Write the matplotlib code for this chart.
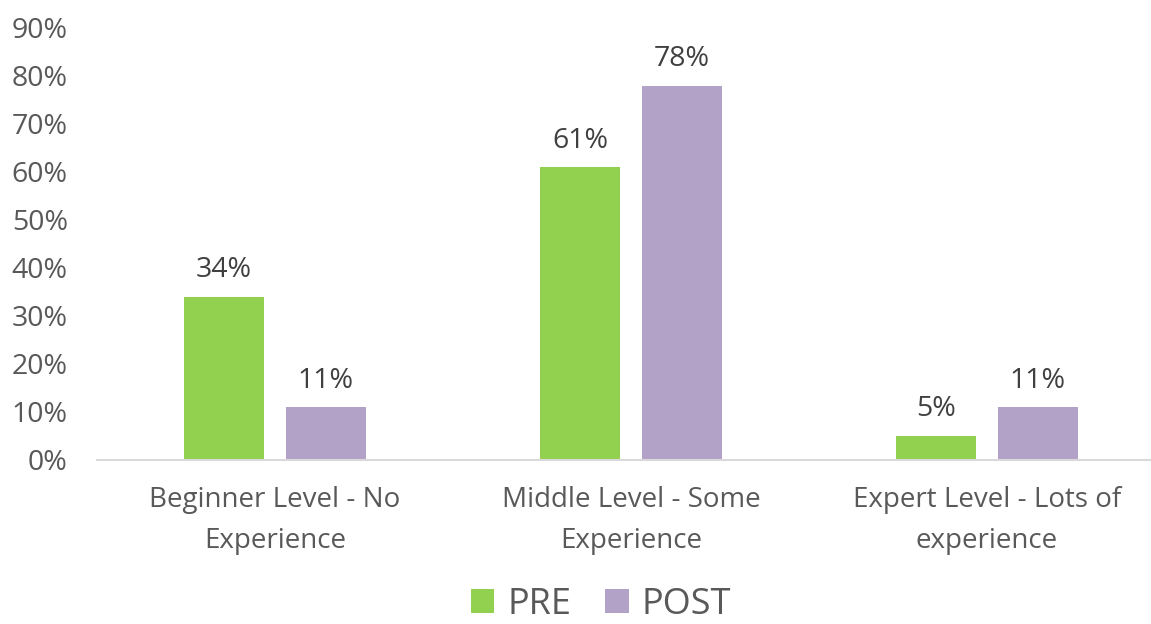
import matplotlib
matplotlib.use("Agg")
import matplotlib.pyplot as plt
from matplotlib.patches import Patch
import numpy as np

categories = ["Beginner Level - No\nExperience",
              "Middle Level - Some\nExperience",
              "Expert Level - Lots of\nexperience"]
series_names = ["PRE", "POST"]
pre_values = [34, 61, 5]
post_values = [11, 78, 11]
y_ticks = [0, 10, 20, 30, 40, 50, 60, 70, 80, 90]

colors = ["#92D050", "#B3A2C7"]
plt.rcParams["font.family"] = ["Open Sans", "DejaVu Sans"]

fig = plt.figure(figsize=(11.51, 6.24), dpi=100)
ax = fig.add_axes([97 / 1151, 164 / 624, 3 * 356 / 1151, 432 / 624])

x = np.arange(len(categories))
width = 0.225
offset = 0.143
for vals, name, col, off in zip([pre_values, post_values], series_names, colors, [-offset, offset]):
    bars = ax.bar(x + off, vals, width, color=col, label=name)
    for b, v in zip(bars, vals):
        ax.annotate(f"{v}%", (b.get_x() + b.get_width() / 2, v),
                    xytext=(0, 9), textcoords="offset points",
                    ha="center", va="bottom", fontsize=20.5, color="#404040")

ax.set_xlim(-0.5, 2.5)
ax.set_ylim(0, 90)
ax.set_yticks(y_ticks)
ax.set_yticklabels([f"{t}%" for t in y_ticks])
ax.set_xticks(x)
ax.set_xticklabels(categories, fontsize=20, color="#595959", linespacing=1.6)
ax.tick_params(axis="y", length=0, labelsize=20.5, labelcolor="#595959", pad=21)
ax.tick_params(axis="x", length=0, pad=19)
for s in ["top", "right", "left"]:
    ax.spines[s].set_visible(False)
ax.spines["bottom"].set_color("#D9D9D9")
ax.spines["bottom"].set_linewidth(1.5)

handles = [Patch(facecolor=c, label=n) for c, n in zip(colors, series_names)]
fig.legend(handles=handles, loc="center", bbox_to_anchor=(601 / 1151, 1 - 605 / 624),
           ncol=2, frameon=False, fontsize=26, labelcolor="#595959",
           handlelength=0.65, handleheight=0.65, handletextpad=0.35, columnspacing=0.95,
           borderpad=0.1)

fig.savefig("out.png", dpi=100)
